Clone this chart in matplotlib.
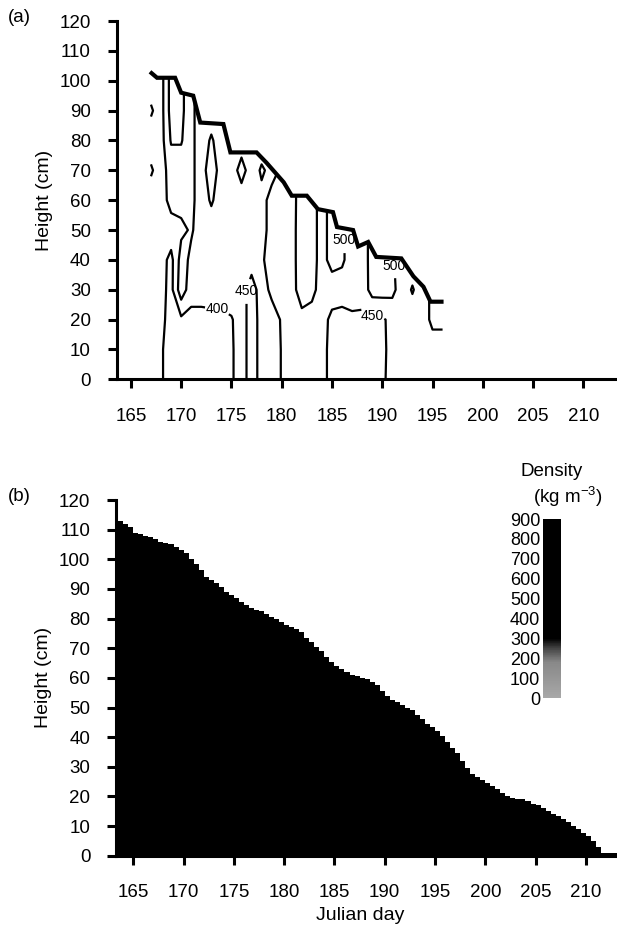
import matplotlib.pyplot as plt
import numpy as np
from matplotlib.colors import LinearSegmentedColormap, Normalize
from matplotlib.cm import ScalarMappable
from matplotlib.patches import Polygon

plt.rcParams['font.family'] = ['Liberation Sans', 'DejaVu Sans']
plt.rcParams['mathtext.default'] = 'regular'

# (a) snow density (kg m-3)
# rows = height 0..110 cm, columns = Julian day 167..196
grid_days = np.arange(167, 197)
grid_heights = np.arange(0, 120, 10)
density = np.array([
    [420, 405, 380, 380, 380, 380, 380, 380, 392, 430, 470, 435, 440, 451, 470, 470, 470, 470, 430, 425, 425, 425, 430, 440, 470, 470, 470, 470, 470, 470],
    [420, 405, 380, 380, 380, 380, 380, 380, 392, 430, 470, 435, 440, 451, 470, 470, 470, 470, 430, 425, 425, 425, 430, 440, 465, 470, 470, 470, 470, 470],
    [420, 410, 385, 390, 385, 385, 385, 385, 395, 430, 470, 435, 440, 452, 470, 475, 470, 465, 440, 435, 440, 440, 440, 445, 460, 470, 470, 470, 440, 440],
    [425, 415, 385, 480, 420, 420, 425, 430, 435, 440, 460, 440, 455, 465, 470, 540, 520, 470, 470, 470, 475, 470, 520, 520, 515, 470, 505, 470, 440, 440],
    [430, 420, 385, 470, 440, 430, 430, 430, 430, 435, 440, 445, 465, 470, 470, 545, 520, 480, 520, 510, 470, 480, 515, 510, 505, 480, 470, 470, 440, 440],
    [430, 430, 430, 440, 455, 430, 430, 430, 430, 430, 435, 445, 455, 465, 470, 545, 520, 480, 520, 510, 470, 480, 515, 510, 505, 480, 470, 470, 440, 440],
    [430, 430, 465, 465, 460, 430, 455, 430, 430, 430, 430, 440, 460, 455, 470, 540, 520, 480, 520, 510, 470, 480, 515, 510, 505, 480, 470, 470, 440, 440],
    [455, 430, 470, 470, 460, 430, 475, 430, 430, 465, 430, 455, 440, 455, 470, 540, 520, 480, 520, 510, 470, 480, 515, 510, 505, 480, 470, 470, 440, 440],
    [430, 430, 505, 505, 460, 430, 455, 430, 430, 430, 430, 430, 440, 455, 470, 540, 520, 480, 520, 510, 470, 480, 515, 510, 505, 480, 470, 470, 440, 440],
    [455, 430, 520, 515, 460, 430, 430, 430, 430, 430, 430, 430, 440, 455, 470, 540, 520, 480, 520, 510, 470, 480, 515, 510, 505, 480, 470, 470, 440, 440],
    [430, 430, 520, 515, 460, 430, 430, 430, 430, 430, 430, 430, 440, 455, 470, 540, 520, 480, 520, 510, 470, 480, 515, 510, 505, 480, 470, 470, 440, 440],
    [430, 430, 520, 515, 460, 430, 430, 430, 430, 430, 430, 430, 440, 455, 470, 540, 520, 480, 520, 510, 470, 480, 515, 510, 505, 480, 470, 470, 440, 440],
])
contour_levels = [400, 450, 500]

# snow surface (thick line in panel a)
surface_day = [166.9, 167.6, 169.4, 170.0, 171.2, 171.9, 174.2, 174.9, 177.5, 178.5,
               180.2, 181.0, 182.5, 183.6, 185.1, 185.5, 187.1, 187.6, 188.6, 189.4,
               191.9, 193.1, 194.1, 194.8, 196.1]
surface_height = [103, 101, 101, 96, 95, 86, 85.5, 76, 76, 72.5,
                  66, 61.5, 61.5, 57, 56, 51, 50, 44.5, 46, 41,
                  40.5, 34.5, 31, 26, 26]

# (b) snow depth, half-day steps from day 163.0
depth_days = np.arange(163.0, 214.0, 0.5)
depth_cm = [114, 113, 112, 111, 109, 108.5, 108, 107.5, 107, 106,
            105.5, 105, 104, 103, 102, 100, 98.5, 96.5, 94, 93,
            92, 90.5, 89, 88, 87, 85.5, 84.5, 83.5, 83, 82.5,
            81.5, 80.5, 80, 79, 78, 77, 76.5, 75.5, 73.5, 72,
            70.5, 69, 67, 65.5, 64, 63, 62, 61, 60.5, 60,
            59.5, 58.5, 57.5, 55.5, 54, 52.5, 52, 51, 50, 49,
            47.5, 46, 44.5, 43.5, 42, 40.5, 38.5, 36.5, 34.5, 32,
            29.5, 27.5, 26.5, 25.5, 24.5, 23.5, 22.5, 21, 20, 19.5,
            19, 19, 18.5, 17.5, 17, 16, 15, 14, 13.5, 12.5,
            11.5, 10, 9, 7.5, 6.5, 5, 3, 1, 0.8, 0.8,
            0.8, 0.8]

cbar_ticks = [0, 100, 200, 300, 400, 500, 600, 700, 800, 900]

fig = plt.figure(figsize=(6.17, 9.27), dpi=100)
ax1 = fig.add_axes([0.189, 0.5908, 0.811, 0.3865])
ax2 = fig.add_axes([0.188, 0.0769, 0.812, 0.3837])

for ax in (ax1, ax2):
    ax.spines['top'].set_visible(False)
    ax.spines['right'].set_visible(False)
    ax.spines['left'].set_linewidth(2.2)
    ax.spines['bottom'].set_linewidth(2.2)
    ax.tick_params(width=2.2, length=6.5, direction='out', labelsize=13.5)
    ax.tick_params(axis='x', pad=14)
    ax.tick_params(axis='y', pad=12)
    ax.set_ylim(0, 120)
    ax.set_yticks(range(0, 121, 10))
    ax.set_xticks(range(165, 211, 5))
    ax.set_ylabel('Height (cm)', fontsize=14)
    ax.yaxis.set_label_coords(-0.127, 0.5)

# panel (a)
ax1.set_xlim(163.58, 213.35)
cs = ax1.contour(grid_days, grid_heights, density, levels=contour_levels,
                 colors='black', linewidths=1.6)
labels = ax1.clabel(cs, levels=contour_levels, fmt='%d', fontsize=10, inline=True,
                    inline_spacing=1,
                    manual=[(173.6, 23), (174.6, 29.5), (185.6, 46.5), (190.6, 38), (188.8, 18.5)])
for t in labels:
    t.set_rotation(0)
clip = Polygon(list(zip(surface_day, surface_height)) + [(196.1, -2), (166.9, -2)],
               closed=True, transform=ax1.transData)
cs.set_clip_path(clip)
ax1.plot(surface_day, surface_height, color='black', lw=3,
         solid_joinstyle='miter', solid_capstyle='butt')

# panel (b)
ax2.set_xlim(163.28, 213.1)
ax2.fill_between(depth_days, depth_cm, step='post', color='black', lw=0)

cmap = LinearSegmentedColormap.from_list(
    'snow', [(0, '#a8a8a8'), (0.2, '#888888'), (0.28, '#404040'), (0.33, 'black'), (1, 'black')])
cax = fig.add_axes([0.880, 0.247, 0.0292, 0.1931])
cb = fig.colorbar(ScalarMappable(norm=Normalize(0, 900), cmap=cmap), cax=cax, ticks=cbar_ticks)
cb.outline.set_visible(False)
cax.yaxis.set_ticks_position('left')
cax.tick_params(length=0, pad=2, labelsize=13)

fig.text(0.8947, 0.4919, 'Density', fontsize=13.5, ha='center', va='center')
fig.text(0.9206, 0.4639, '(kg m$^{-3}$)', fontsize=13.5, ha='center', va='center')
fig.text(0.5835, 0.0129, 'Julian day', fontsize=14, ha='center', va='center')
fig.text(0.013, 0.9806, '(a)', fontsize=13.5, ha='left', va='center')
fig.text(0.013, 0.4639, '(b)', fontsize=13.5, ha='left', va='center')

fig.savefig('out.png', dpi=100)
